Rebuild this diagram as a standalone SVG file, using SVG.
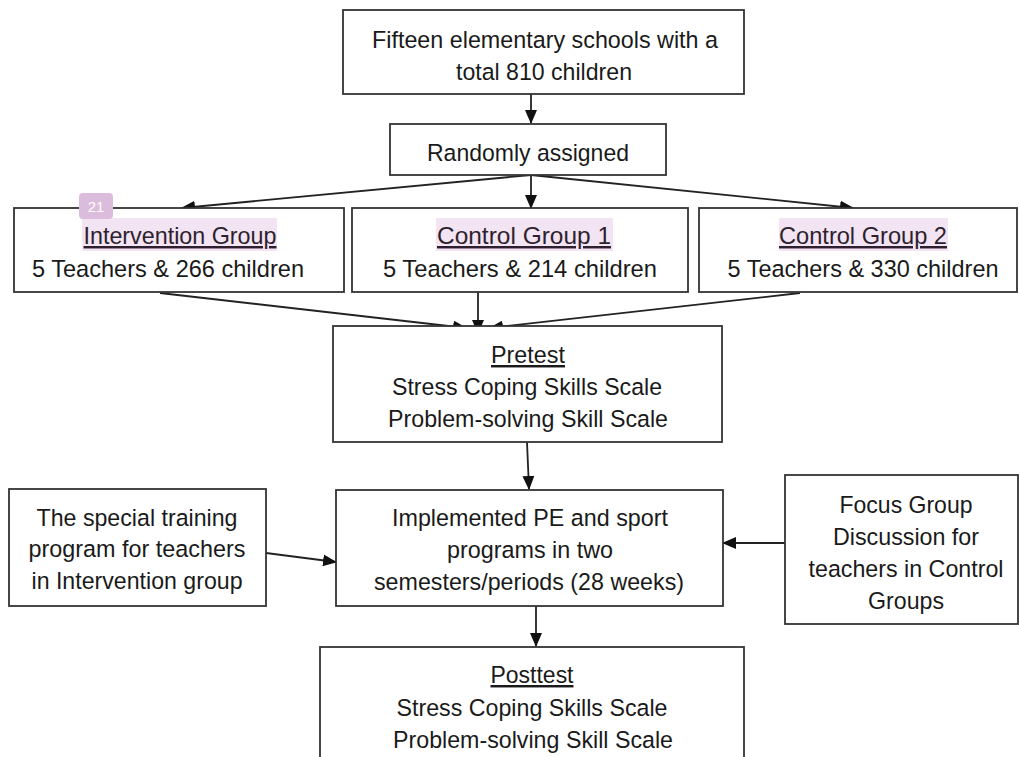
<svg xmlns="http://www.w3.org/2000/svg" width="1019" height="757" viewBox="0 0 1019 757">
<defs>
<style>
.box{fill:#fff;stroke:#333;stroke-width:1.8}
.t{font-family:"Liberation Sans",Arial,sans-serif;font-size:24.5px;fill:#1a1a1a;text-anchor:middle}
.u{text-decoration:underline}
.hl{fill:#f2e4f2}
.hlt{fill:#2e1f2e}
.c{fill:none;stroke:#222;stroke-width:1.8}
</style>
<marker id="ah" markerWidth="14" markerHeight="12" refX="13" refY="6" orient="auto" markerUnits="userSpaceOnUse">
<path d="M0,0 L14,6 L0,12 Z" fill="#111"/>
</marker>
</defs>
<rect x="0" y="0" width="1019" height="757" fill="#fff"/>

<g id="connectors">
<line class="c" x1="531" y1="94" x2="531" y2="123" marker-end="url(#ah)"/>
<line class="c" x1="531" y1="175" x2="182" y2="208" marker-end="url(#ah)"/>
<line class="c" x1="531" y1="175" x2="531" y2="208" marker-end="url(#ah)"/>
<line class="c" x1="531" y1="175" x2="853" y2="208" marker-end="url(#ah)"/>
<line class="c" x1="160" y1="293" x2="466" y2="328" marker-end="url(#ah)"/>
<line class="c" x1="478" y1="292" x2="478" y2="333" marker-end="url(#ah)"/>
<line class="c" x1="800" y1="293" x2="490" y2="328" marker-end="url(#ah)"/>
<line class="c" x1="527" y1="442" x2="529" y2="489" marker-end="url(#ah)"/>
<line class="c" x1="266" y1="553" x2="336" y2="562" marker-end="url(#ah)"/>
<line class="c" x1="785" y1="543" x2="723" y2="543" marker-end="url(#ah)"/>
<line class="c" x1="536" y1="606" x2="536" y2="646" marker-end="url(#ah)"/>
</g>

<g id="schools">
<rect class="box" x="343" y="10" width="401" height="84"/>
<text class="t" x="545" y="48" textLength="346" lengthAdjust="spacingAndGlyphs">Fifteen elementary schools with a</text>
<text class="t" x="544" y="80" textLength="176" lengthAdjust="spacingAndGlyphs">total 810 children</text>
</g>

<g id="random">
<rect class="box" x="390" y="124" width="276" height="51"/>
<text class="t" x="528" y="161" textLength="202" lengthAdjust="spacingAndGlyphs">Randomly assigned</text>
</g>

<g id="intervention">
<rect class="box" x="14" y="208" width="330" height="84"/>
<rect class="hl" x="82" y="218" width="195" height="33"/>
<text class="t u hlt" x="180" y="244" textLength="193" lengthAdjust="spacingAndGlyphs">Intervention Group</text>
<text class="t" x="168" y="277" textLength="272" lengthAdjust="spacingAndGlyphs">5 Teachers &amp; 266 children</text>
</g>

<g id="control1">
<rect class="box" x="352" y="208" width="336" height="84"/>
<rect class="hl" x="436" y="218" width="177" height="33"/>
<text class="t u hlt" x="524" y="244" textLength="174" lengthAdjust="spacingAndGlyphs">Control Group 1</text>
<text class="t" x="520" y="277" textLength="274" lengthAdjust="spacingAndGlyphs">5 Teachers &amp; 214 children</text>
</g>

<g id="control2">
<rect class="box" x="699" y="208" width="318" height="84"/>
<rect class="hl" x="779" y="218" width="169" height="33"/>
<text class="t u hlt" x="863" y="244" textLength="168" lengthAdjust="spacingAndGlyphs">Control Group 2</text>
<text class="t" x="863" y="277" textLength="271" lengthAdjust="spacingAndGlyphs">5 Teachers &amp; 330 children</text>
</g>

<g id="badge">
<rect x="79" y="193" width="34" height="26" rx="4" fill="#dcbcdc"/>
<text x="96" y="212" font-family="Liberation Sans,Arial,sans-serif" font-size="15" fill="#fff" text-anchor="middle">21</text>
</g>

<g id="pretest">
<rect class="box" x="333" y="326" width="389" height="116"/>
<text class="t u" x="528" y="363" textLength="74" lengthAdjust="spacingAndGlyphs">Pretest</text>
<text class="t" x="527" y="395" textLength="270" lengthAdjust="spacingAndGlyphs">Stress Coping Skills Scale</text>
<text class="t" x="528" y="427" textLength="280" lengthAdjust="spacingAndGlyphs">Problem-solving Skill Scale</text>
</g>

<g id="training">
<rect class="box" x="9" y="489" width="257" height="117"/>
<text class="t" x="137" y="526" textLength="201" lengthAdjust="spacingAndGlyphs">The special training</text>
<text class="t" x="137" y="557" textLength="217" lengthAdjust="spacingAndGlyphs">program for teachers</text>
<text class="t" x="137" y="589" textLength="211" lengthAdjust="spacingAndGlyphs">in Intervention group</text>
</g>

<g id="implemented">
<rect class="box" x="336" y="490" width="387" height="116"/>
<text class="t" x="530" y="526" textLength="276" lengthAdjust="spacingAndGlyphs">Implemented PE and sport</text>
<text class="t" x="530" y="558" textLength="166" lengthAdjust="spacingAndGlyphs">programs in two</text>
<text class="t" x="529" y="590" textLength="310" lengthAdjust="spacingAndGlyphs">semesters/periods (28 weeks)</text>
</g>

<g id="focus">
<rect class="box" x="785" y="475" width="233" height="149"/>
<text class="t" x="906" y="513" textLength="133" lengthAdjust="spacingAndGlyphs">Focus Group</text>
<text class="t" x="906" y="545" textLength="146" lengthAdjust="spacingAndGlyphs">Discussion for</text>
<text class="t" x="906" y="577" textLength="195" lengthAdjust="spacingAndGlyphs">teachers in Control</text>
<text class="t" x="906" y="609" textLength="76" lengthAdjust="spacingAndGlyphs">Groups</text>
</g>

<g id="posttest">
<rect class="box" x="320" y="647" width="424" height="130"/>
<text class="t u" x="532" y="683" textLength="83" lengthAdjust="spacingAndGlyphs">Posttest</text>
<text class="t" x="532" y="716" textLength="271" lengthAdjust="spacingAndGlyphs">Stress Coping Skills Scale</text>
<text class="t" x="533" y="748" textLength="280" lengthAdjust="spacingAndGlyphs">Problem-solving Skill Scale</text>
</g>
</svg>
